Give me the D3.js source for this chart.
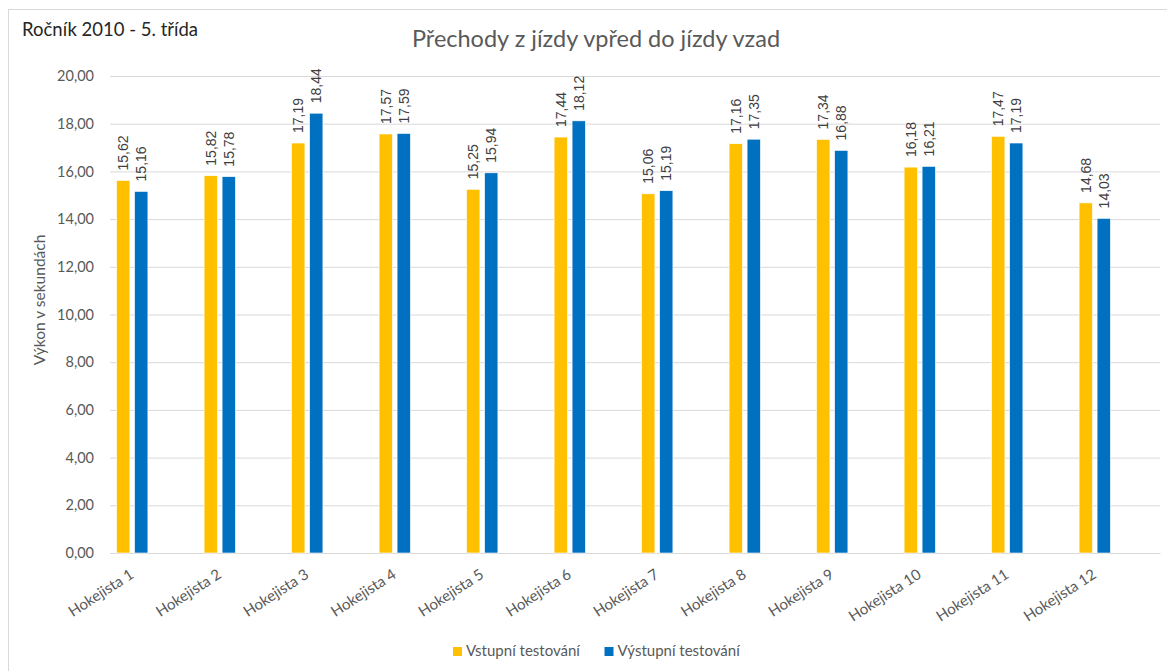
<!DOCTYPE html>
<html>
<head>
<meta charset="utf-8">
<script src="https://cdn.jsdelivr.net/npm/d3@7"></script>
<style>
  html, body { margin: 0; padding: 0; background: #fff; }
  svg { display: block; }
  text { font-family: Lato, "Open Sans", sans-serif; }
</style>
</head>
<body>
<svg id="chart" width="1167" height="671"></svg>
<script>
// Hockey players' test results (seconds)
const players = ["Hokejista 1", "Hokejista 2", "Hokejista 3", "Hokejista 4", "Hokejista 5", "Hokejista 6",
                 "Hokejista 7", "Hokejista 8", "Hokejista 9", "Hokejista 10", "Hokejista 11", "Hokejista 12"];
const vstupni = [15.62, 15.82, 17.19, 17.57, 15.25, 17.44, 15.06, 17.16, 17.34, 16.18, 17.47, 14.68];
const vystupni = [15.16, 15.78, 18.44, 17.59, 15.94, 18.12, 15.19, 17.35, 16.88, 16.21, 17.19, 14.03];
const seriesNames = ["Vstupní testování", "Výstupní testování"];
const seriesColors = ["#FFC000", "#0070C0"];
const yTicks = [0, 2, 4, 6, 8, 10, 12, 14, 16, 18, 20];

const svg = d3.select("#chart");
const W = 1167, H = 671;
const plot = { left: 110, right: 1160, top: 76, bottom: 553 };

// chart frame
svg.append("rect")
  .attr("x", 8.5).attr("y", 9.5)
  .attr("width", W + 10).attr("height", H + 10)
  .attr("fill", "#fff").attr("stroke", "#d9d9d9").attr("stroke-width", 1);

const y = d3.scaleLinear().domain([0, 20]).range([plot.bottom, plot.top]);
const x = d3.scaleBand().domain(players).range([plot.left, plot.right]).padding(0);
const xs = d3.scaleBand().domain([0, 1]).range([6.6, 37.9]).paddingInner(0.26).paddingOuter(0);
const fmt = v => d3.format(".2f")(v).replace(".", ",");

// gridlines and tick labels
const yAxis = d3.axisLeft(y).tickValues(yTicks).tickFormat(fmt)
  .tickSize(-(plot.right - plot.left)).tickPadding(16);
const gy = svg.append("g").attr("transform", `translate(${plot.left},0)`).call(yAxis);
gy.select(".domain").remove();
gy.selectAll(".tick line").attr("stroke", "#d9d9d9").attr("stroke-width", 1);
gy.selectAll(".tick text")
  .attr("fill", "#595959").style("font-size", "14.5px").style("font-family", "Lato, sans-serif");

// category labels
const xAxis = d3.axisBottom(x).tickSize(0).tickPadding(0);
const gx = svg.append("g").attr("transform", `translate(0,${plot.bottom})`).call(xAxis);
gx.select(".domain").attr("stroke", "#d9d9d9");
gx.selectAll(".tick text")
  .attr("fill", "#595959").style("font-size", "15px").style("font-family", "Lato, sans-serif")
  .attr("text-anchor", "end").attr("dy", null)
  .attr("transform", "translate(-19,24) rotate(-33)");

// bars
const data = players.map((p, i) => ({ p, vals: [vstupni[i], vystupni[i]] }));
const groups = svg.append("g").selectAll("g").data(data).join("g")
  .attr("transform", d => `translate(${x(d.p)},0)`);

groups.selectAll("rect").data(d => d.vals.map((v, s) => ({ v, s }))).join("rect")
  .attr("x", d => xs(d.s))
  .attr("width", xs.bandwidth())
  .attr("y", d => y(d.v))
  .attr("height", d => y(0) - y(d.v))
  .attr("fill", d => seriesColors[d.s])
  .attr("stroke", "#fff").attr("stroke-width", 0.6);

// value labels
groups.selectAll("text.val").data(d => d.vals.map((v, s) => ({ v, s }))).join("text")
  .attr("class", "val")
  .attr("transform", d => `translate(${xs(d.s) + xs.bandwidth() / 2},${y(d.v) - 10}) rotate(-90)`)
  .attr("dy", "0.35em")
  .attr("text-anchor", "start")
  .attr("fill", "#404040")
  .style("font-family", "'Liberation Sans', Arial, sans-serif")
  .style("font-size", "14px")
  .text(d => fmt(d.v));

// titles
svg.append("text")
  .attr("x", 596).attr("y", 47)
  .attr("text-anchor", "middle").attr("fill", "#595959")
  .style("font-size", "23.5px")
  .text("Přechody z jízdy vpřed do jízdy vzad");

svg.append("text")
  .attr("x", 22).attr("y", 36)
  .attr("fill", "#262626")
  .style("font-size", "18.5px")
  .text("Ročník 2010 - 5. třída");

svg.append("text")
  .attr("transform", "translate(45,300) rotate(-90)")
  .attr("text-anchor", "middle").attr("fill", "#595959")
  .style("font-size", "15.5px")
  .text("Výkon v sekundách");

// legend
const legend = svg.append("g");
const legendX = [453, 604.5];
seriesNames.forEach((name, i) => {
  legend.append("rect")
    .attr("x", legendX[i]).attr("y", 647)
    .attr("width", 9).attr("height", 9)
    .attr("fill", seriesColors[i]);
  legend.append("text")
    .attr("x", legendX[i] + 13).attr("y", 656)
    .attr("fill", "#595959")
    .style("font-size", "15px")
    .text(name);
});
</script>
</body>
</html>
